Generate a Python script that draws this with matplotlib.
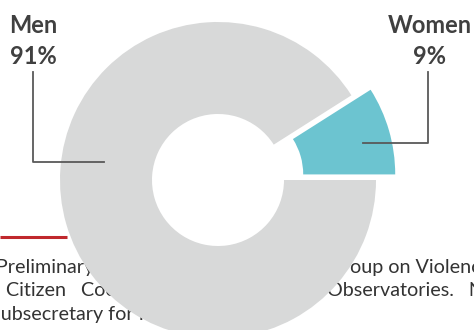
import numpy as np
import matplotlib.pyplot as plt

# data
labels = ["Women", "Men"]
shares = [9, 91]
colors = ["#6cc4d0", "#d8d9d9"]

# document text partly hidden behind the donut
text_left = ["Preliminary data from", " Citizen   Coordination", "Subsecretary for Human"]
text_right = ["oup on Violence", "Observatories.   Note"]

plt.rcParams['font.family'] = ['Lato', 'DejaVu Sans']

fig = plt.figure(figsize=(4.74, 3.30), dpi=100)
ax = fig.add_axes([0, 0, 1, 1])

cx, cy, R, r_in = 218, 180, 158, 66

# background text
body = dict(fontsize=14.2, color="#333333", va="baseline", zorder=0)
ax.text(-4, 273, text_left[0], **body)
ax.text(350, 273, text_right[0], **body)
ax.text(1, 296, text_left[1], **body)
ax.text(327, 296, text_right[1], **body)
ax.text(-10, 320, text_left[2], **body)

# red rule
ax.plot([0, 67], [237, 237], color="#c0282d", lw=2.2, solid_capstyle="butt", zorder=0)

wedges, _ = ax.pie(shares, colors=colors, startangle=0, counterclock=False,
                   center=(cx, cy), radius=R, explode=[20, 0],
                   wedgeprops=dict(width=R - r_in, linewidth=0))

# leader lines
ax.plot([33, 33, 104], [72, 162, 162], color="#595959", lw=1.3, zorder=5)
ax.plot([428, 428, 363], [72, 143, 143], color="#595959", lw=1.3, zorder=5)

# labels
lab = dict(fontsize=17, fontweight="bold", color="#404040", ha="center", va="baseline")
ax.text(33, 33, "Men", **lab)
ax.text(33, 64, "91%", **lab)
ax.text(430, 33, "Women", **lab)
ax.text(430, 64, "9%", **lab)

ax.set_xlim(0, 474)
ax.set_ylim(330, 0)
ax.set_aspect("equal")
ax.axis("off")

fig.savefig("out.png", dpi=100, facecolor="white")
